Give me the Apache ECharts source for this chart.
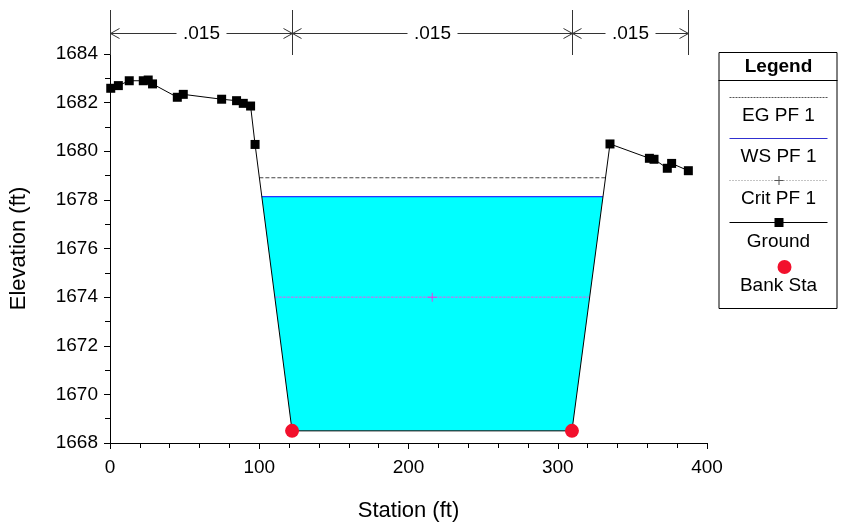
<!DOCTYPE html>
<html><head><meta charset="utf-8">
<script src="https://cdn.jsdelivr.net/npm/echarts@6/dist/echarts.min.js"></script>
<style>html,body{margin:0;padding:0;background:#fff}#c{width:845px;height:522px}</style>
</head><body><div id="c"></div>
<script>
// ---- data ----
const groundStation = [0.5, 5.6, 12.9, 22.3, 25.6, 28.5, 45.1, 49.1, 74.8, 84.8, 89.3, 94.2, 97.2, 122, 309.5, 335, 361.4, 364.5, 373.4, 376.3, 387.5];
const groundElev = [1682.59, 1682.70, 1682.90, 1682.90, 1682.93, 1682.77, 1682.22, 1682.34, 1682.14, 1682.08, 1681.97, 1681.86, 1680.28, 1668.5, 1668.5, 1680.30, 1679.71, 1679.67, 1679.30, 1679.50, 1679.20];
const bankStation = [122, 309.5];
const bankElev = [1668.5, 1668.5];
const egElev = 1678.91;
const wsElev = 1678.13;
const critElev = 1674.0;
const nStations = [0, 122, 309.5, 387.5];
const nValues = ['.015', '.015', '.015'];
const xTicks = [0, 100, 200, 300, 400];
const yTicks = [1668, 1670, 1672, 1674, 1676, 1678, 1680, 1682, 1684];
const legendNames = ['EG PF 1', 'WS PF 1', 'Crit PF 1', 'Ground', 'Bank Sta'];

const FONT = '"Liberation Sans", Arial, sans-serif';
const groundPts = groundStation.map((s, i) => [s, groundElev[i]]);
function crossings(elev) {
  const res = [];
  for (let i = 1; i < groundPts.length; i++) {
    const a = groundPts[i - 1], b = groundPts[i];
    if ((a[1] - elev) * (b[1] - elev) < 0) res.push(a[0] + (elev - a[1]) / (b[1] - a[1]) * (b[0] - a[0]));
  }
  return [res[0], res[res.length - 1]];
}
const ws = crossings(wsElev), eg = crossings(egElev), cr = crossings(critElev);
const waterPoly = [[ws[0], wsElev]].concat(groundPts.filter(p => p[0] > ws[0] && p[0] < ws[1])).concat([[ws[1], wsElev]]);
const segs = nValues.map((v, i) => [nStations[i], nStations[i + 1], i]);

const chart = echarts.init(document.getElementById('c'));
const axisCommon = {
  type: 'value',
  axisLine: { show: true, onZero: false, lineStyle: { color: '#000', width: 1 } },
  axisTick: { show: true, length: 6, lineStyle: { color: '#000' } },
  splitLine: { show: false },
  axisLabel: { color: '#000', fontSize: 19, fontFamily: FONT, formatter: v => String(v) },
  nameTextStyle: { color: '#000', fontSize: 22, fontFamily: FONT }
};
const yMax = yTicks[yTicks.length - 1];
chart.setOption({
  animation: false,
  backgroundColor: '#fff',
  grid: { left: 110, right: 138, top: 54, bottom: 79, containLabel: false, outerBoundsMode: 'none' },
  xAxis: Object.assign({}, axisCommon, {
    min: xTicks[0], max: xTicks[xTicks.length - 1], interval: xTicks[1] - xTicks[0],
    minorTick: { show: true, splitNumber: 5, length: 5, lineStyle: { color: '#000' } },
    axisLabel: Object.assign({}, axisCommon.axisLabel, { margin: 15 }),
    name: 'Station (ft)', nameLocation: 'middle', nameGap: 57
  }),
  yAxis: Object.assign({}, axisCommon, {
    min: yTicks[0], max: yMax, interval: yTicks[1] - yTicks[0],
    minorTick: { show: true, splitNumber: 2, length: 5, lineStyle: { color: '#000' } },
    axisLabel: Object.assign({}, axisCommon.axisLabel, { margin: 12 }),
    name: 'Elevation (ft)', nameLocation: 'middle', nameGap: 80, nameRotate: 90
  }),
  series: [
    {
      type: 'custom', name: 'water', clip: false, silent: true, z: 1,
      data: [[0, yTicks[0]]],
      renderItem: (params, api) => ({
        type: 'polygon',
        shape: { points: waterPoly.map(p => api.coord(p)) },
        style: { fill: '#00ffff', stroke: null }
      })
    },
    {
      type: 'line', name: legendNames[0], z: 3, symbol: 'none',
      data: [[eg[0], egElev], [eg[1], egElev]],
      lineStyle: { color: '#444', width: 1, type: [4, 2] }
    },
    {
      type: 'line', name: legendNames[1], z: 3, symbol: 'none',
      data: [[ws[0], wsElev], [ws[1], wsElev]],
      lineStyle: { color: '#0000ff', width: 1 }
    },
    {
      type: 'line', name: legendNames[2], z: 3,
      data: [
        { value: [cr[0], critElev], symbol: 'none' },
        { value: [(cr[0] + cr[1]) / 2, critElev], symbol: 'path://M4,0h1v4h4v1h-4v4h-1v-4h-4v-1h4z', symbolSize: 9 },
        { value: [cr[1], critElev], symbol: 'none' }
      ],
      itemStyle: { color: '#e040e0' },
      lineStyle: { color: '#e858e8', width: 1, type: [3, 1] }
    },
    {
      type: 'line', name: legendNames[3], z: 4,
      data: groundPts,
      symbol: 'rect', symbolSize: 9,
      itemStyle: { color: '#000' },
      lineStyle: { color: '#000', width: 1 }
    },
    {
      type: 'scatter', name: legendNames[4], z: 5,
      data: bankStation.map((s, i) => [s, bankElev[i]]),
      symbol: 'circle', symbolSize: 14,
      itemStyle: { color: '#f2102c', borderWidth: 0, opacity: 1 }
    },
    {
      type: 'custom', name: 'n', clip: false, silent: true, z: 6,
      data: segs,
      encode: { x: [0, 1] },
      renderItem: (params, api) => {
        const x1 = Math.round(api.coord([api.value(0), yMax])[0]) + 0.5;
        const x2 = Math.round(api.coord([api.value(1), yMax])[0]) + 0.5;
        const top = Math.round(api.coord([0, yMax])[1]);
        const yl = top - 21 + 0.5, yt = top - 44;
        const mid = (x1 + x2) / 2, gap = 25;
        const st = { stroke: '#333', lineWidth: 1, fill: null };
        return {
          type: 'group', children: [
            { type: 'line', shape: { x1: x1, y1: yt, x2: x1, y2: top + 1 }, style: st },
            { type: 'line', shape: { x1: x2, y1: yt, x2: x2, y2: top + 1 }, style: st },
            { type: 'line', shape: { x1: x1, y1: yl, x2: mid - gap, y2: yl }, style: st },
            { type: 'line', shape: { x1: mid + gap, y1: yl, x2: x2, y2: yl }, style: st },
            { type: 'polyline', shape: { points: [[x1 + 9, yl - 5], [x1, yl], [x1 + 9, yl + 5]] }, style: st },
            { type: 'polyline', shape: { points: [[x2 - 9, yl - 5], [x2, yl], [x2 - 9, yl + 5]] }, style: st },
            { type: 'text', style: { text: nValues[api.value(2)], x: mid, y: yl, align: 'center', verticalAlign: 'middle', fontSize: 19, fontFamily: FONT, fill: '#000' } }
          ]
        };
      }
    }
  ],
  graphic: [{
    type: 'group', left: 716, top: 52, children: [
      { type: 'rect', shape: { x: 0.5, y: 0.5, width: 118, height: 256 }, style: { fill: '#fff', stroke: '#000', lineWidth: 1 } },
      { type: 'line', shape: { x1: 0, y1: 28.5, x2: 119, y2: 28.5 }, style: { stroke: '#000', lineWidth: 1 } },
      { type: 'text', style: { text: 'Legend', x: 60, y: 15, align: 'center', verticalAlign: 'middle', fontSize: 19, fontWeight: 'bold', fontFamily: FONT, fill: '#000' } },
      // EG
      { type: 'line', shape: { x1: 11, y1: 45.5, x2: 109, y2: 45.5 }, style: { stroke: '#555', lineWidth: 1, lineDash: [2, 1] } },
      { type: 'text', style: { text: legendNames[0], x: 60, y: 64, align: 'center', verticalAlign: 'middle', fontSize: 19, fontFamily: FONT, fill: '#000' } },
      // WS
      { type: 'line', shape: { x1: 11, y1: 86.5, x2: 109, y2: 86.5 }, style: { stroke: '#3030d0', lineWidth: 1 } },
      { type: 'text', style: { text: legendNames[1], x: 60, y: 105, align: 'center', verticalAlign: 'middle', fontSize: 19, fontFamily: FONT, fill: '#000' } },
      // Crit
      { type: 'line', shape: { x1: 11, y1: 128.5, x2: 109, y2: 128.5 }, style: { stroke: '#888', lineWidth: 1, lineDash: [1, 2] } },
      { type: 'line', shape: { x1: 60.5, y1: 124, x2: 60.5, y2: 133 }, style: { stroke: '#555', lineWidth: 1 } },
      { type: 'line', shape: { x1: 56, y1: 128.5, x2: 65, y2: 128.5 }, style: { stroke: '#555', lineWidth: 1 } },
      { type: 'text', style: { text: legendNames[2], x: 60, y: 147, align: 'center', verticalAlign: 'middle', fontSize: 19, fontFamily: FONT, fill: '#000' } },
      // Ground
      { type: 'line', shape: { x1: 11, y1: 170.5, x2: 109, y2: 170.5 }, style: { stroke: '#000', lineWidth: 1 } },
      { type: 'rect', shape: { x: 56, y: 166, width: 9, height: 9 }, style: { fill: '#000' } },
      { type: 'text', style: { text: legendNames[3], x: 60, y: 190, align: 'center', verticalAlign: 'middle', fontSize: 19, fontFamily: FONT, fill: '#000' } },
      // Bank
      { type: 'circle', shape: { cx: 66, cy: 215, r: 7 }, style: { fill: '#f2102c' } },
      { type: 'text', style: { text: legendNames[4], x: 60, y: 234, align: 'center', verticalAlign: 'middle', fontSize: 19, fontFamily: FONT, fill: '#000' } }
    ]
  }]
});
</script>
</body></html>
